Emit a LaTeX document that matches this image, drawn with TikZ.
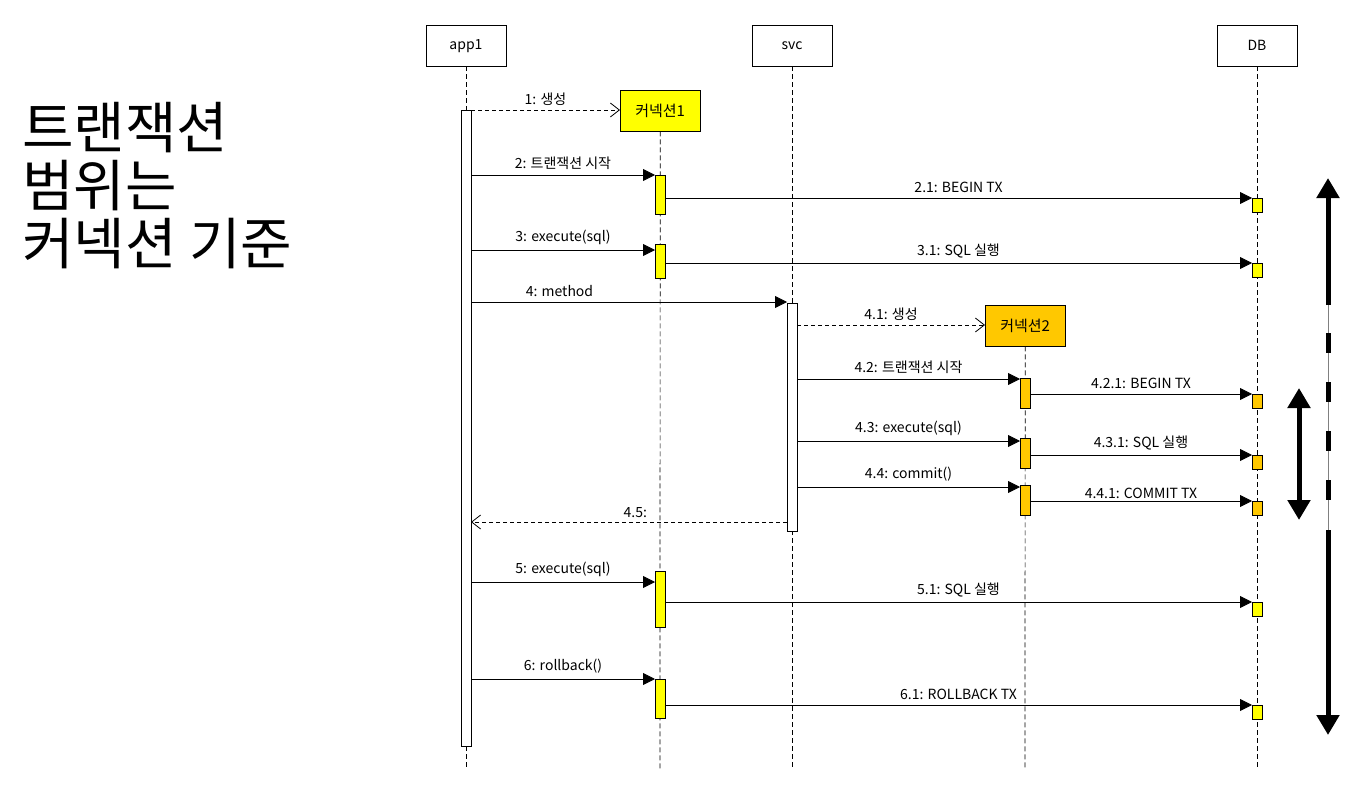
\documentclass[tikz,border=0pt]{standalone}
\usepackage{fontspec}
\setmainfont{Noto Sans CJK KR}
\usetikzlibrary{arrows.meta}
\begin{document}
\begin{tikzpicture}[x=1pt,y=-1pt,
  lbl/.style={font=\fontsize{14}{16}\selectfont, inner sep=1pt},
  head/.style={draw, fill=white, minimum width=80pt, minimum height=41pt, font=\fontsize{14}{16}\selectfont, anchor=north},
  conn/.style={draw, minimum width=80pt, minimum height=41pt, font=\fontsize{15}{16}\selectfont, anchor=north west},
  life/.style={dashed, line width=0.7pt, dash pattern=on 5pt off 3pt},
  act/.style={draw, line width=0.7pt, fill=#1},
  msg/.style={line width=0.8pt, -{Triangle[length=12pt,width=12pt]}},
  crt/.style={line width=0.8pt, dash pattern=on 4pt off 3pt, -{Straight Barb[length=9pt,width=14pt]}},
  big/.style={line width=5pt, -{Triangle[length=20pt,width=22pt]}}]
\useasboundingbox (0,0) rectangle (1358,795);
\definecolor{y1}{RGB}{255,255,0}
\definecolor{y2}{RGB}{255,200,0}
% big text
\node[anchor=north west, align=left, font=\fontsize{56}{58}\selectfont, inner sep=0] (title) at (22,102) {트랜잭션\\범위는\\커넥션 기준};
% lifelines
\node[head] (app) at (466,25) {app1};
\node[head] (svc) at (792,25) {svc};
\node[head] (db) at (1257,25) {DB};
\node[conn, fill=y1] (c1) at (620,90) {커넥션1};
\node[conn, fill=y2] (c2) at (985,305) {커넥션2};
\coordinate (appE) at (466,770); \coordinate (svcE) at (792,770);
\coordinate (dbE) at (1257,770); \coordinate (c1E) at (660,770); \coordinate (c2E) at (1025,770);
\draw[life] (app) -- (appE); \draw[life] (svc) -- (svcE); \draw[life] (db) -- (dbE);
\draw[life] (c1) -- (c1E); \draw[life] (c2) -- (c2E);
% activations
\draw[act=white] (461,110) rectangle (471,746);
\draw[act=white] (787,303) rectangle (797,531);
\foreach \a/\b in {175/214,244/278,571/627,679/718} \draw[act=y1] (655,\a) rectangle (665,\b);
\foreach \a/\b in {378/408,438/468,485/515} \draw[act=y2] (1020,\a) rectangle (1030,\b);
\foreach \a in {198,263,602,705} \draw[act=y1] (1252,\a) rectangle (1262,\a+14);
\foreach \a in {394,455,501} \draw[act=y2] (1252,\a) rectangle (1262,\a+14);
% messages
\draw[crt] (471,110) -- (c1.west|-0,110) node[lbl, midway, above=3pt] {1: 생성};
\draw[msg] (471,175) -- (655,175) node[lbl, midway, above=4pt] {2: 트랜잭션 시작};
\draw[msg] (665,198) -- (1252,198) node[lbl, midway, above=4pt] {2.1: BEGIN TX};
\draw[msg] (471,250) -- (655,250) node[lbl, midway, above=4pt] {3: execute(sql)};
\draw[msg] (665,263) -- (1252,263) node[lbl, midway, above=4pt] {3.1: SQL 실행};
\draw[msg] (471,302) -- (787,302) node[lbl, pos=0.28, above=4pt] {4: method};
\draw[crt] (797,325) -- (985,325) node[lbl, midway, above=3pt] {4.1: 생성};
\draw[msg] (797,379) -- (1020,379) node[lbl, midway, above=4pt] {4.2: 트랜잭션 시작};
\draw[msg] (1030,394) -- (1252,394) node[lbl, midway, above=4pt] {4.2.1: BEGIN TX};
\draw[msg] (797,441) -- (1020,441) node[lbl, midway, above=4pt] {4.3: execute(sql)};
\draw[msg] (1030,455) -- (1252,455) node[lbl, midway, above=4pt] {4.3.1: SQL 실행};
\draw[msg] (797,487) -- (1020,487) node[lbl, midway, above=4pt] {4.4: commit()};
\draw[msg] (1030,501) -- (1252,501) node[lbl, midway, above=1pt] {4.4.1: COMMIT TX};
\draw[crt] (787,522) -- (471,522) node[lbl, pos=0.48, above=3pt] {4.5:};
\draw[msg] (471,582) -- (655,582) node[lbl, midway, above=4pt] {5: execute(sql)};
\draw[msg] (665,602) -- (1252,602) node[lbl, midway, above=4pt] {5.1: SQL 실행};
\draw[msg] (471,679) -- (655,679) node[lbl, midway, above=4pt] {6: rollback()};
\draw[msg] (665,705) -- (1252,705) node[lbl, midway, above=4pt] {6.1: ROLLBACK TX};
% scope arrows
\coordinate (o1) at (1328,178); \coordinate (o2) at (1328,735);
\draw[line width=0.8pt, gray] (1328,300) -- (1328,540);
\draw[big] (1328,305) -- (o1);
\foreach \a in {333,382,431,480} \draw[line width=5pt] (1328,\a) -- (1328,\a+20);
\draw[big] (1328,530) -- (o2);
\coordinate (i1) at (1299,388); \coordinate (i2) at (1299,520);
\draw[line width=5pt, {Triangle[length=20pt,width=22pt]}-{Triangle[length=20pt,width=22pt]}] (i1) -- (i2);
\end{tikzpicture}
\end{document}
